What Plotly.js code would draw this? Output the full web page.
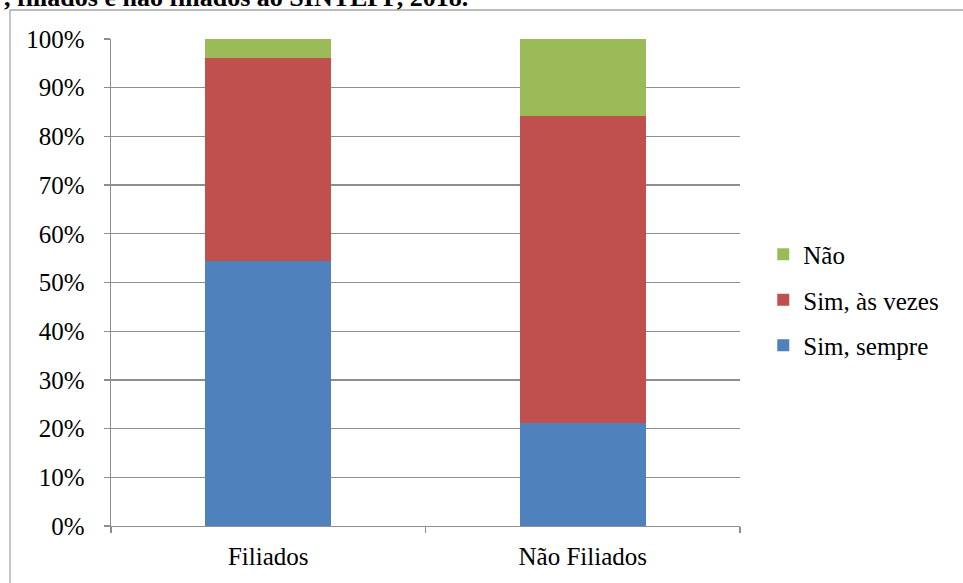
<!DOCTYPE html>
<html>
<head>
<meta charset="utf-8">
<script src="https://cdn.plot.ly/plotly-3.0.1.min.js"></script>
<style>
  html, body { margin: 0; padding: 0; background: #fff; }
  #chart { width: 963px; height: 583px; }
</style>
</head>
<body>
<div id="chart"></div>
<script>
// Share of responses by union membership (percent)
const categories = ["Filiados", "Não Filiados"];
const simSempre = [54.4, 21.2];
const simAsVezes = [41.6, 63.0];
const nao = [4.0, 15.8];
const yTickValues = [0, 10, 20, 30, 40, 50, 60, 70, 80, 90, 100];
const yTickLabels = ["0%", "10%", "20%", "30%", "40%", "50%", "60%", "70%", "80%", "90%", "100%"];
const titleText = ", filiados e não filiados ao SINTEPP, 2018.";

const serif = "'Liberation Serif', 'Times New Roman', Times, serif";
const gridGray = "#8e8e8e";

const traces = [
  { name: "Sim, sempre", y: simSempre, color: "#4F81BD", group: "a", rank: 3 },
  { name: "Sim, às vezes", y: simAsVezes, color: "#C0504D", group: "b", rank: 2 },
  { name: "Não", y: nao, color: "#9BBB59", group: "c", rank: 1 }
].map(s => ({
  type: "bar",
  x: categories,
  y: s.y,
  name: s.name,
  legendgroup: s.group,
  legendrank: s.rank,
  marker: { color: s.color, line: { width: 0 } },
  hoverinfo: "skip"
}));

const layout = {
  width: 963,
  height: 583,
  margin: { l: 111, r: 223, t: 39, b: 57 },
  paper_bgcolor: "#ffffff",
  plot_bgcolor: "#ffffff",
  barmode: "stack",
  bargap: 0.6,
  font: { family: serif, size: 25, color: "#000000" },
  showlegend: true,
  legend: {
    x: 1.037, xanchor: "left",
    y: 0.464, yanchor: "middle",
    traceorder: "grouped",
    tracegroupgap: 10,
    font: { family: serif, size: 25, color: "#000000" },
    bgcolor: "rgba(0,0,0,0)"
  },
  xaxis: {
    type: "category",
    showgrid: false,
    showline: true,
    linecolor: gridGray,
    linewidth: 1.3,
    ticks: "outside",
    tickson: "boundaries",
    ticklen: 6,
    tickcolor: gridGray,
    tickwidth: 1.3,
    ticklabelstandoff: 8,
    zeroline: false,
    fixedrange: true
  },
  yaxis: {
    range: [0, 100],
    tickvals: yTickValues,
    ticktext: yTickLabels,
    showgrid: true,
    gridcolor: gridGray,
    gridwidth: 1.3,
    showline: true,
    linecolor: gridGray,
    linewidth: 1.3,
    ticks: "outside",
    ticklen: 6,
    tickcolor: gridGray,
    tickwidth: 1.3,
    ticklabelstandoff: 14,
    zeroline: false,
    fixedrange: true
  },
  shapes: [
    {
      type: "rect", xref: "paper", yref: "paper",
      x0: -0.1606, x1: 1.6, y0: -0.3, y1: 1.0595,
      line: { color: "#a6a6a6", width: 1.3 },
      fillcolor: "rgba(0,0,0,0)",
      layer: "below"
    }
  ],
  annotations: [
    {
      text: titleText,
      xref: "paper", yref: "paper",
      x: 0.5707, xanchor: "right",
      y: 1.052, yanchor: "bottom",
      showarrow: false,
      font: { family: serif, size: 26, color: "#000000", weight: "bold" }
    }
  ]
};

Plotly.newPlot("chart", traces, layout, { displayModeBar: false, staticPlot: true });
</script>
</body>
</html>
